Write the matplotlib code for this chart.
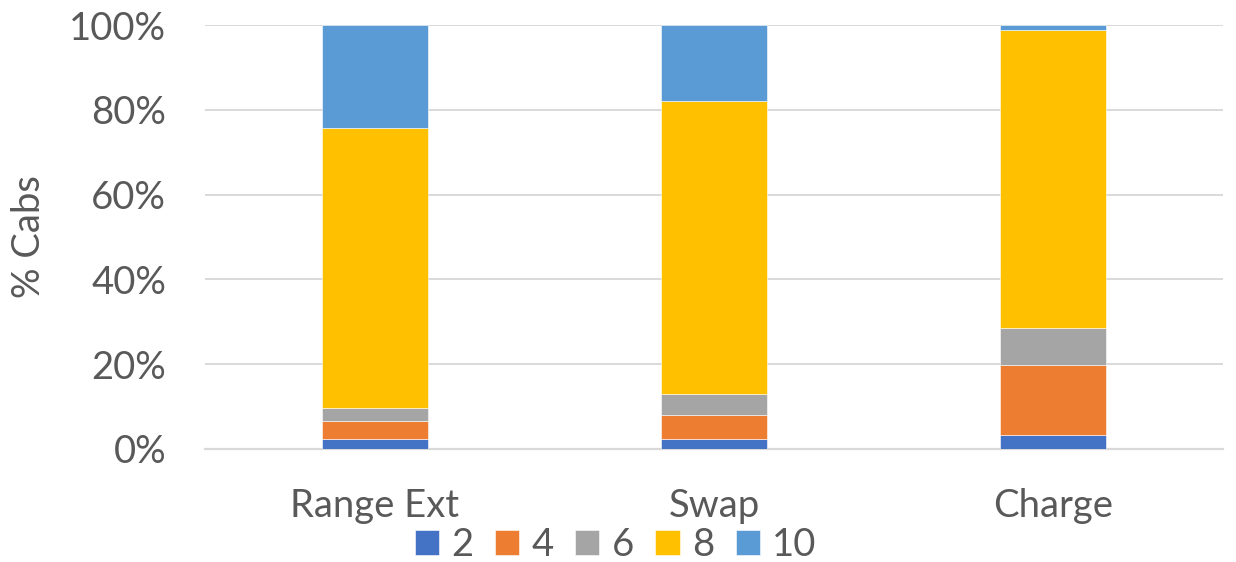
import matplotlib
matplotlib.use("Agg")
import matplotlib.pyplot as plt
import numpy as np
from matplotlib.ticker import FuncFormatter

categories = ["Range Ext", "Swap", "Charge"]
series_names = ["2", "4", "6", "8", "10"]
share_2 = [2.4, 2.4, 3.4]
share_4 = [4.1, 5.55, 16.35]
share_6 = [3.2, 5.1, 8.75]
share_8 = [65.9, 69.0, 70.3]
share_10 = [24.4, 18.0, 1.2]
colors = ["#4472C4", "#ED7D31", "#A5A5A5", "#FFC000", "#5B9BD5"]

plt.rcParams["font.family"] = ["Lato", "DejaVu Sans"]
text_color = "#595959"
fs = 27.5

fig = plt.figure(figsize=(12.36, 5.62), dpi=100)
ax = fig.add_axes([0.1659, 0.2011, 0.8236, 0.7544])

x = np.arange(len(categories))
bottom = np.zeros(len(categories))
handles = []
for name, vals, col in zip(series_names, [share_2, share_4, share_6, share_8, share_10], colors):
    vals = np.array(vals) / 100.0
    b = ax.bar(x, vals, 0.312, bottom=bottom, color=col, label=name,
               edgecolor="white", linewidth=0.4, zorder=3)
    handles.append(b)
    bottom += vals

ax.set_xlim(-0.5, len(categories) - 0.5)
ax.set_ylim(0, 1.0)
ax.set_yticks(np.arange(0, 1.01, 0.2))
ax.yaxis.set_major_formatter(FuncFormatter(lambda v, p: f"{v*100:.0f}%"))
ax.set_xticks(x)
ax.set_xticklabels(categories)
ax.grid(axis="y", color="#d9d9d9", linewidth=1.4, zorder=0)
for s in ["top", "right", "left"]:
    ax.spines[s].set_visible(False)
ax.spines["bottom"].set_color("#d9d9d9")
ax.spines["bottom"].set_linewidth(1.6)
ax.tick_params(axis="both", length=0, labelsize=fs, colors=text_color)
ax.tick_params(axis="y", pad=28)
ax.tick_params(axis="x", pad=28)
ax.set_ylabel("% Cabs", fontsize=fs, color=text_color, labelpad=16)

fig.legend(handles=handles, labels=series_names, loc="center",
           bbox_to_anchor=(0.498, 0.030), ncol=5, frameon=False,
           fontsize=fs, labelcolor=text_color, handlelength=0.63,
           handleheight=0.63, handletextpad=0.32, columnspacing=0.57)

fig.savefig("out.png", dpi=100)
